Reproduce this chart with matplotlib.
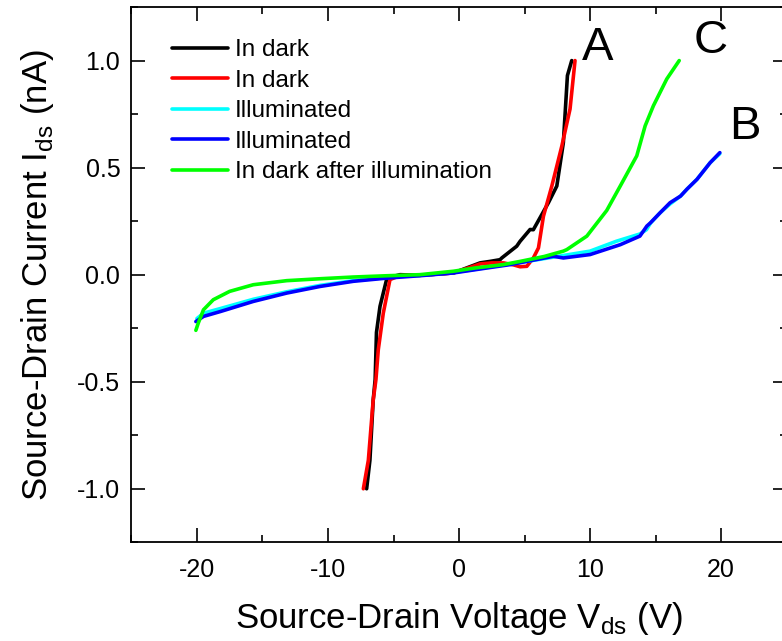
import matplotlib
matplotlib.use("Agg")
import matplotlib.pyplot as plt
from matplotlib.ticker import MultipleLocator, FormatStrFormatter

plt.rcParams['font.family'] = ['Liberation Sans', 'DejaVu Sans']
plt.rcParams['axes.unicode_minus'] = False

# --- curve data (V in volts, I in nA) ---
v_dark1 = [-7.05, -6.8, -6.55, -6.4, -6.3, -6.03, -5.5, -4.5, -3.0, -0.43, 1.6, 2.37, 3.13, 3.26,
           4.40, 4.66, 5.42, 5.67, 6.82, 7.46, 7.96, 8.27, 8.6]
i_dark1 = [-1.0, -0.867, -0.586, -0.49, -0.27, -0.148, -0.016, 0.0, -0.003, 0.008, 0.055, 0.062, 0.07, 0.078,
           0.133, 0.156, 0.211, 0.21, 0.336, 0.414, 0.617, 0.93, 1.0]

v_dark2 = [-7.3, -6.92, -6.55, -6.34, -6.16, -5.78, -5.27, -4.5, -3.0, -0.43, 1.6, 2.5, 3.4, 4.2,
           4.66, 5.17, 5.67, 6.06, 6.44, 7.08, 7.84, 8.47, 8.85]
i_dark2 = [-1.0, -0.867, -0.586, -0.49, -0.35, -0.18, -0.023, -0.004, -0.003, 0.008, 0.05, 0.055, 0.055, 0.045,
           0.037, 0.039, 0.078, 0.125, 0.273, 0.414, 0.60, 0.774, 1.0]

v_illum1 = [-20.0, -19.5, -18.2, -15.7, -13.15, -10.6, -8.07, -5.5, -3.0, -0.43, 2.1, 3.9, 6.0,
            8.0, 10.0, 12.0, 13.8, 14.3, 14.6, 15.34, 16.1, 16.9, 17.4, 18.15, 19.16, 19.9]
i_illum1 = [-0.205, -0.18, -0.158, -0.115, -0.08, -0.05, -0.028, -0.013, -0.003, 0.01, 0.033, 0.05, 0.07,
            0.09, 0.11, 0.156, 0.19, 0.21, 0.24, 0.289, 0.33, 0.367, 0.40, 0.445, 0.523, 0.565]

v_illum2 = [-20.08, -19.5, -18.2, -15.7, -13.15, -10.6, -8.07, -5.5, -3.0, -0.43, 2.1, 3.9, 7.2,
            7.96, 10.0, 12.3, 13.8, 14.33, 14.6, 15.34, 16.1, 16.9, 17.4, 18.15, 19.16, 19.9]
i_illum2 = [-0.219, -0.195, -0.172, -0.125, -0.086, -0.055, -0.031, -0.016, -0.005, 0.008, 0.031, 0.047, 0.086,
            0.078, 0.094, 0.14, 0.18, 0.227, 0.242, 0.289, 0.336, 0.367, 0.40, 0.445, 0.523, 0.57]

v_after = [-20.08, -19.9, -19.5, -18.75, -17.5, -15.7, -13.15, -10.6, -8.07, -5.5, -3.0, -0.43, 1.2,
           3.38, 4.66, 6.5, 7.96, 8.22, 9.75, 11.27, 12.3, 13.56, 14.2, 14.83, 15.85, 16.8]
i_after = [-0.26, -0.227, -0.164, -0.117, -0.078, -0.047, -0.028, -0.019, -0.011, -0.005, 0.0, 0.016, 0.031,
           0.047, 0.062, 0.085, 0.11, 0.117, 0.18, 0.30, 0.414, 0.555, 0.695, 0.789, 0.914, 1.0]

series = [
    (v_dark1, i_dark1, 'black', 'In dark'),
    (v_dark2, i_dark2, 'red', 'In dark'),
    (v_illum1, i_illum1, 'cyan', 'Illuminated'),
    (v_illum2, i_illum2, 'blue', 'Illuminated'),
    (v_after, i_after, 'lime', 'In dark after illumination'),
]

fig = plt.figure(figsize=(7.82, 6.41), dpi=100)
ax = fig.add_axes([0.168, 0.154, 0.838, 0.835])

for v, i, c, lab in series:
    ax.plot(v, i, color=c, lw=2.6, label=lab, solid_capstyle='round')

ax.set_xlim(-25, 25)
ax.set_ylim(-1.25, 1.25)
ax.xaxis.set_major_locator(MultipleLocator(10))
ax.xaxis.set_minor_locator(MultipleLocator(5))
ax.yaxis.set_major_locator(MultipleLocator(0.5))
ax.yaxis.set_minor_locator(MultipleLocator(0.25))
ax.yaxis.set_major_formatter(FormatStrFormatter('%.1f'))
ax.tick_params(which='both', direction='in', top=True, right=True, width=1.2, labelsize=18)
ax.tick_params(axis='x', which='major', pad=11)
ax.tick_params(axis='y', which='major', pad=8)
ax.tick_params(which='major', length=10)
ax.tick_params(which='minor', length=5)
for s in ax.spines.values():
    s.set_linewidth(1.3)

ax.set_xlabel(r'Source-Drain Voltage V$_\mathregular{ds}$ (V)', fontsize=25, labelpad=13)
ax.set_ylabel(r'Source-Drain Current I$_\mathregular{ds}$ (nA)', fontsize=25, labelpad=15)

# curve tags
ax.text(10.6, 1.06, 'A', fontsize=34, ha='center', va='center')
ax.text(19.2, 1.09, 'C', fontsize=34, ha='center', va='center')
ax.text(21.8, 0.69, 'B', fontsize=34, ha='center', va='center')

ax.legend(loc='upper left', bbox_to_anchor=(0.047, 0.958), frameon=False,
          prop={'size': 17.5}, handlelength=2.3, handletextpad=0.3,
          labelspacing=0.35, borderaxespad=0.0)

fig.savefig('out.png', dpi=100)
